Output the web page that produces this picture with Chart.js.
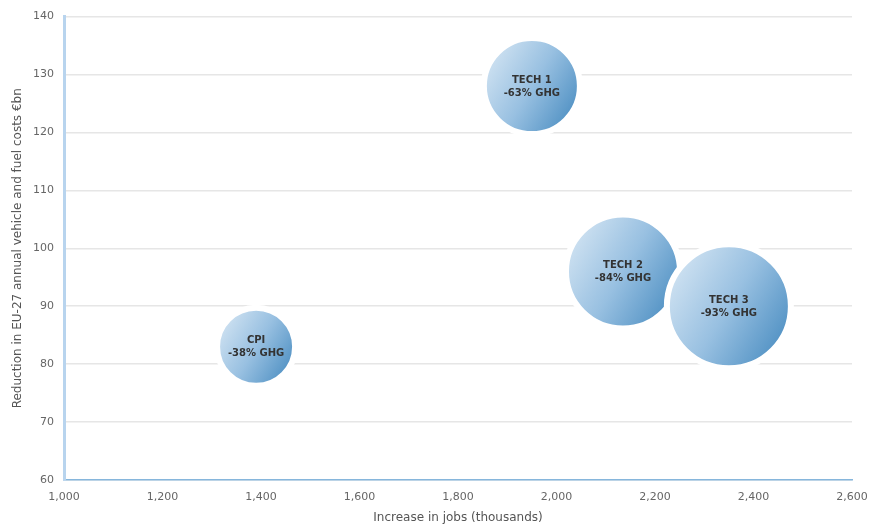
<!DOCTYPE html>
<html>
<head>
<meta charset="utf-8">
<script src="https://cdn.jsdelivr.net/npm/chart.js@4.4.1/dist/chart.umd.min.js"></script>
<style>
  body { margin: 0; background: #fff; }
  #wrap { width: 871px; height: 525px; position: relative; }
</style>
</head>
<body>
<div id="wrap"><canvas id="chart"></canvas></div>
<script>
// Scenario bubbles
const scenarios = ['CPI', 'TECH 1', 'TECH 2', 'TECH 3'];
const ghgCut = ['-38% GHG', '-63% GHG', '-84% GHG', '-93% GHG'];
const jobs = [1390, 1950, 2135, 2350];        // thousands
const costSaving = [83, 128, 96, 90];          // €bn
const bubbleSize = [39, 48, 57, 62];

const xMin = 1000, xMax = 2600, xStep = 200;
const yMin = 60, yMax = 140, yStep = 10;

const points = scenarios.map((s, i) => ({ x: jobs[i], y: costSaving[i], r: bubbleSize[i] }));

const axisFont = { family: '"DejaVu Sans", sans-serif', size: 11 };
const titleFont = { family: '"DejaVu Sans", sans-serif', size: 12 };

function bubbleFill(ctx) {
    const chart = ctx.chart;
    if (!chart.chartArea || !ctx.raw) return '#8fb9dd';
    const cx = chart.scales.x.getPixelForValue(ctx.raw.x);
    const cy = chart.scales.y.getPixelForValue(ctx.raw.y);
    const r = ctx.raw.r;
    const g = chart.ctx.createLinearGradient(cx - r, cy - r * 0.6, cx + r, cy + r * 0.6);
    g.addColorStop(0, '#d4e5f3');
    g.addColorStop(0.5, '#98c0e1');
    g.addColorStop(1, '#4a8dc1');
    return g;
}

// text inside each bubble
const bubbleLabels = {
    id: 'bubbleLabels',
    afterDatasetsDraw(chart) {
        const c = chart.ctx;
        const meta = chart.getDatasetMeta(0);
        c.save();
        c.fillStyle = '#333';
        c.font = 'bold 10px "DejaVu Sans", sans-serif';
        c.textAlign = 'center';
        c.textBaseline = 'middle';
        meta.data.forEach((pt, i) => {
            c.fillText(scenarios[i], pt.x, pt.y - 6);
            c.fillText(ghgCut[i], pt.x, pt.y + 7);
        });
        c.restore();
    }
};

new Chart(document.getElementById('chart'), {
    type: 'bubble',
    data: {
        datasets: [{
            data: points,
            backgroundColor: bubbleFill,
            borderColor: '#ffffff',
            borderWidth: 6,
            hoverBorderWidth: 6
        }]
    },
    options: {
        responsive: true,
        maintainAspectRatio: false,
        animation: false,
        events: [],
        layout: { autoPadding: false, padding: { top: 16, right: 19, left: 0, bottom: 0 } },
        plugins: {
            legend: { display: false },
            tooltip: { enabled: false }
        },
        scales: {
            x: {
                type: 'linear',
                min: xMin,
                max: xMax,
                afterFit: s => {
                    s.height = 45;
                    s.paddingLeft = 0;   // don't let edge labels shrink the plot
                    s.paddingRight = 0;
                },
                ticks: {
                    stepSize: xStep,
                    padding: 11,
                    color: '#666',
                    font: axisFont,
                    callback: v => v.toLocaleString('en-US')
                },
                grid: { display: false, drawTicks: false },
                border: { display: true, color: '#86b6dc', width: 1.5 },
                title: {
                    display: true,
                    text: 'Increase in jobs (thousands)',
                    color: '#555',
                    font: titleFont,
                    padding: { top: 0, bottom: 0 }
                }
            },
            y: {
                type: 'linear',
                min: yMin,
                max: yMax,
                afterFit: s => { s.width = 64; },
                ticks: {
                    stepSize: yStep,
                    padding: 10,
                    color: '#666',
                    font: axisFont
                },
                grid: { color: '#e6e6e6', lineWidth: 1.5, drawTicks: false },
                border: { display: true, color: '#b8d4ee', width: 3 },
                title: {
                    display: true,
                    text: 'Reduction in EU-27 annual vehicle and fuel costs €bn',
                    color: '#555',
                    font: titleFont,
                    padding: { top: 11, bottom: 0 }
                }
            }
        }
    },
    plugins: [bubbleLabels]
});
</script>
</body>
</html>
